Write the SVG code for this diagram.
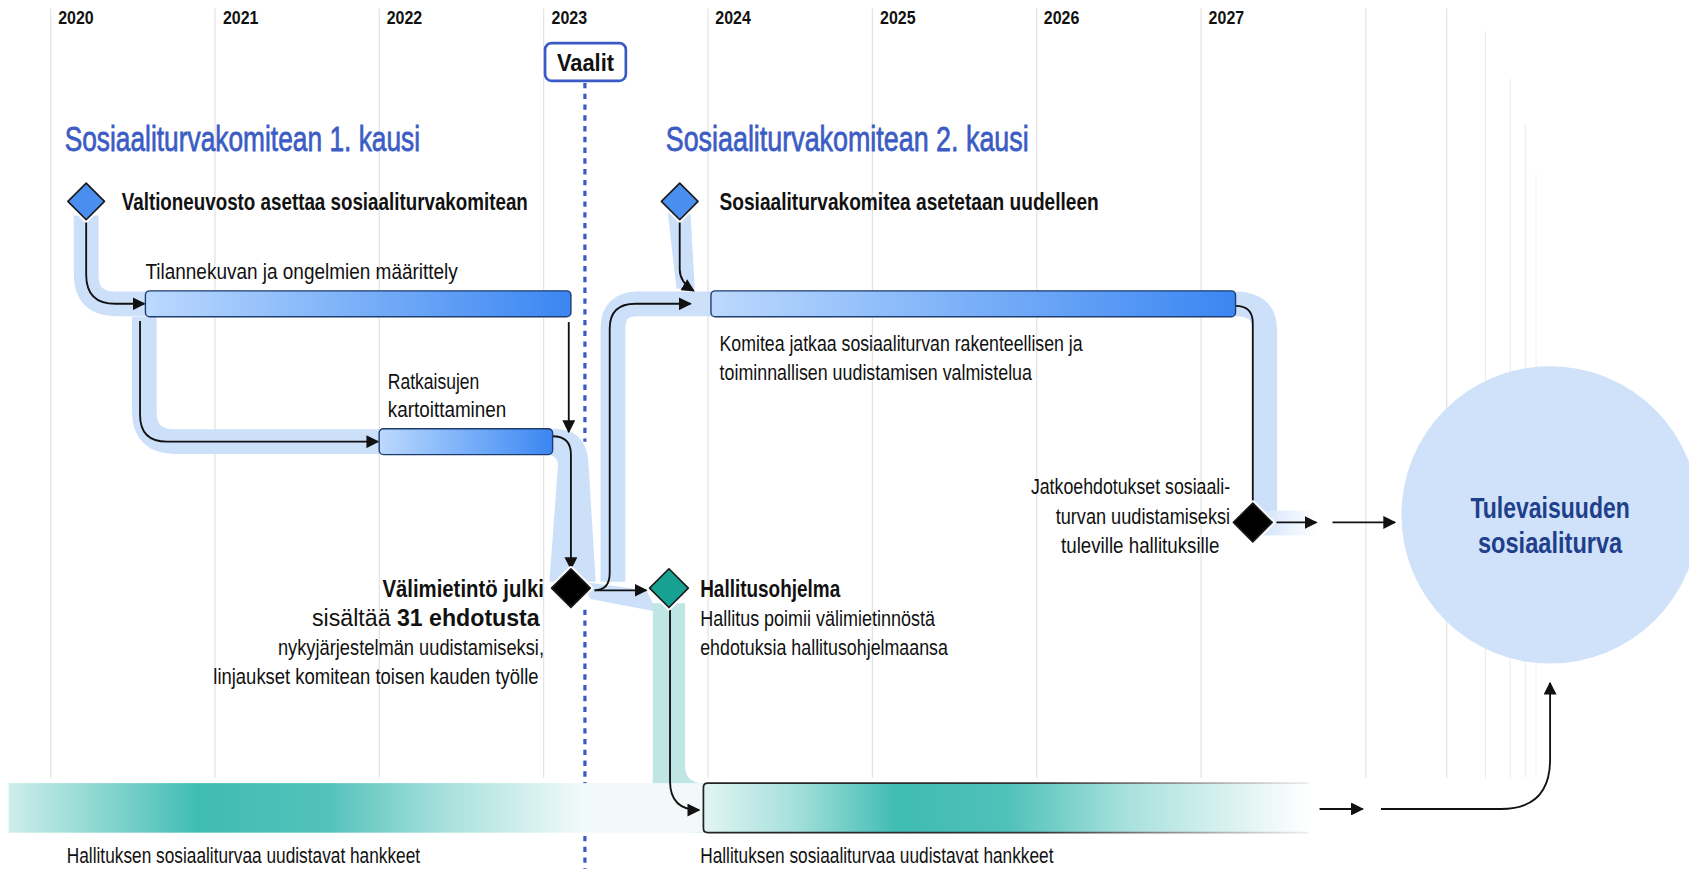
<svg xmlns="http://www.w3.org/2000/svg" width="1689" height="869" viewBox="0 0 1689 869">
<style>
text{font-family:"Liberation Sans Narrow","Liberation Sans",Arial,sans-serif;fill:#111}
.yr{font-size:17px;font-weight:bold}
.ttl{font-size:33px;fill:#3b5cc4;stroke:#3b5cc4;stroke-width:0.7}
.b{font-size:22px;font-weight:bold}
.t{font-size:21px}
.grid{stroke:#e4e4e4;stroke-width:1.2}
.con{fill:none;stroke:#111;stroke-width:1.7;marker-end:url(#ah)}
.con0{fill:none;stroke:#111;stroke-width:1.7}
.band{fill:none;stroke:#cde0fa;stroke-width:23}
.bar{stroke:#1f3c6e;stroke-width:1.3}
.halo{fill:none;stroke:#fff;stroke-width:5;stroke-linejoin:round}
.dm{stroke:#1a1a1a;stroke-width:1.5;stroke-linejoin:round}
</style>
<defs>
<marker id="ah" viewBox="0 0 10 10" refX="9" refY="5" markerWidth="12" markerHeight="12" markerUnits="userSpaceOnUse" orient="auto"><path d="M0,0 L10,5 L0,10 z" fill="#111"/></marker>
<linearGradient id="gBlue" x1="0" x2="1" y1="0" y2="0"><stop offset="0" stop-color="#bdd9fd"/><stop offset="0.35" stop-color="#8dbcfa"/><stop offset="1" stop-color="#3b86f2"/></linearGradient>
<linearGradient id="gTealL" x1="0" x2="1" y1="0" y2="0"><stop offset="0" stop-color="#cdeeeb"/><stop offset="0.15" stop-color="#8fd8d2"/><stop offset="0.33" stop-color="#3fbcb3"/><stop offset="0.55" stop-color="#52c2ba"/><stop offset="0.75" stop-color="#a6e0dc"/><stop offset="1" stop-color="#f3fbfa"/></linearGradient>
<linearGradient id="gTealR" x1="0" x2="1" y1="0" y2="0"><stop offset="0" stop-color="#e2f5f3"/><stop offset="0.15" stop-color="#a6e0dc"/><stop offset="0.32" stop-color="#3fbcb3"/><stop offset="0.5" stop-color="#4fc1b9"/><stop offset="0.7" stop-color="#a8e1dd"/><stop offset="1" stop-color="#ffffff"/></linearGradient>
<linearGradient id="gLineL" x1="0" x2="1" y1="0" y2="0"><stop offset="0" stop-color="#222"/><stop offset="0.7" stop-color="#333"/><stop offset="1" stop-color="#ddd"/></linearGradient>
<linearGradient id="gLineR" x1="0" x2="1" y1="0" y2="0"><stop offset="0" stop-color="#222"/><stop offset="0.55" stop-color="#333"/><stop offset="1" stop-color="#eee"/></linearGradient>
<linearGradient id="gBandFade" x1="0" x2="1" y1="0" y2="0"><stop offset="0" stop-color="#cde0fa"/><stop offset="1" stop-color="#ffffff"/></linearGradient>
</defs>
<rect width="1689" height="869" fill="#fff"/>
<g transform="scale(1.0772)">

<g id="grid">
<line class="grid" x1="47" y1="8" x2="47" y2="722"/>
<line class="grid" x1="199.6" y1="8" x2="199.6" y2="722"/>
<line class="grid" x1="352.1" y1="8" x2="352.1" y2="722"/>
<line class="grid" x1="504.7" y1="8" x2="504.7" y2="722"/>
<line class="grid" x1="657.3" y1="8" x2="657.3" y2="722"/>
<line class="grid" x1="809.9" y1="8" x2="809.9" y2="722"/>
<line class="grid" x1="962.4" y1="8" x2="962.4" y2="722"/>
<line class="grid" x1="1115" y1="8" x2="1115" y2="722"/>
<line class="grid" x1="1268" y1="8" x2="1268" y2="722"/>
<line class="grid" x1="1343" y1="8" x2="1343" y2="722"/>
<line class="grid" x1="1379" y1="29" x2="1379" y2="722" stroke-opacity="0.7"/>
<line class="grid" x1="1402" y1="73" x2="1402" y2="722" stroke-opacity="0.6"/>
<line class="grid" x1="1416" y1="116" x2="1416" y2="722" stroke-opacity="0.5"/>
<line class="grid" x1="1426" y1="161" x2="1426" y2="722" stroke-opacity="0.4"/>
<text class="yr" x="54" y="22" textLength="33" lengthAdjust="spacingAndGlyphs">2020</text>
<text class="yr" x="207" y="22" textLength="33" lengthAdjust="spacingAndGlyphs">2021</text>
<text class="yr" x="359" y="22" textLength="33" lengthAdjust="spacingAndGlyphs">2022</text>
<text class="yr" x="512" y="22" textLength="33" lengthAdjust="spacingAndGlyphs">2023</text>
<text class="yr" x="664" y="22" textLength="33" lengthAdjust="spacingAndGlyphs">2024</text>
<text class="yr" x="817" y="22" textLength="33" lengthAdjust="spacingAndGlyphs">2025</text>
<text class="yr" x="969" y="22" textLength="33" lengthAdjust="spacingAndGlyphs">2026</text>
<text class="yr" x="1122" y="22" textLength="33" lengthAdjust="spacingAndGlyphs">2027</text>
</g>

<g id="vaalit-line">
<line x1="543" y1="77" x2="543" y2="410" stroke="#3a5bc7" stroke-width="3" stroke-dasharray="5 5"/>
<line x1="543" y1="566" x2="543" y2="810" stroke="#3a5bc7" stroke-width="3" stroke-dasharray="5 5"/>
</g>

<g id="titles">
<text class="ttl" x="60" y="140" textLength="330" lengthAdjust="spacingAndGlyphs">Sosiaaliturvakomitean 1. kausi</text>
<text class="ttl" x="618" y="140" textLength="337" lengthAdjust="spacingAndGlyphs">Sosiaaliturvakomitean 2. kausi</text>
</g>

<g id="bands">
<path class="band" d="M80,200 V255 Q80,282 107,282 H140"/>
<path class="band" d="M134,294 V382 Q134,410 162,410 H358"/>
<path d="M505,398 H514 Q542,398 546,425 L553,540 L510,540 L518,432 Q518,422 505,422 Z" fill="#cde0fa"/>
<path class="band" d="M569,540 V305 Q569,282 592,282 H662"/>
<path d="M620,198 L641,198 L645,268 L628,268 Z" fill="#cde0fa"/>
<path d="M540,540 L600,548 L610,568 L548,556 Z" fill="#cde0fa"/>
<path class="band" d="M1147,282 Q1174,282 1174,306 V485"/>
<rect x="1163" y="474" width="60" height="23" fill="url(#gBandFade)"/>
<path d="M606,560 V733 Q606,773 646,773 H660 V727 H652 Q636,727 636,710 V560 Z" fill="#bfe6e3"/>
</g>

<g id="bottom-bars">
<rect id="bar-left" x="8" y="727" width="537" height="46" fill="url(#gTealL)"/>
<rect x="545" y="727" width="110" height="46" fill="#f2f9f9"/>
<line x1="8" y1="727" x2="545" y2="727" stroke="url(#gLineL)" stroke-width="1.6"/>
<line x1="8" y1="773" x2="545" y2="773" stroke="url(#gLineL)" stroke-width="1.6"/>
<path id="bar-right" d="M653,731 Q653,727 657,727 H1215 V773 H657 Q653,773 653,769 Z" fill="url(#gTealR)"/>
<path d="M1215,727 H657 Q653,727 653,731 V769 Q653,773 657,773 H1215" fill="none" stroke="url(#gLineR)" stroke-width="1.6"/>
<text class="t" x="62" y="801" textLength="328" lengthAdjust="spacingAndGlyphs">Hallituksen sosiaaliturvaa uudistavat hankkeet</text>
<text class="t" x="650" y="801" textLength="328" lengthAdjust="spacingAndGlyphs">Hallituksen sosiaaliturvaa uudistavat hankkeet</text>
</g>

<g id="connectors">
<path class="con" d="M80,206 V255 Q80,282 107,282 H134"/>
<path class="con" d="M130,298 V385 Q130,410 155,410 H351"/>
<path class="con" d="M528,299 V401"/>
<path class="con" d="M513,405 Q530,405 530,422 V528"/>
<path class="con" d="M552,548 Q566,548 566,532 V305 Q566,282 590,282 H641"/>
<path class="con" d="M631,205 V250 Q631,262 644,270"/>
<path class="con" d="M552,548 H600"/>
<path class="con" d="M622,566 V725 Q622,752 649,752"/>
<path class="con0" d="M1147,284 Q1163,284 1163,300 V468"/>
<path class="con" d="M1185,485 H1222"/>
<path class="con" d="M1237,485 H1295"/>
<path class="con" d="M1225,751 H1265"/>
<path class="con" d="M1282,751 H1393 Q1439,751 1439,705 V634"/>
</g>

<g id="vaalit">
<rect x="506" y="40" width="75" height="35" rx="6" fill="#fff" stroke="#3a5bc7" stroke-width="2.5"/>
<text x="543.5" y="66" text-anchor="middle" style="font-size:23px;font-weight:bold" textLength="53" lengthAdjust="spacingAndGlyphs">Vaalit</text>
</g>

<g id="node-valtioneuvosto">
<path class="halo" d="M80,170 L97,187 L80,204 L63,187 Z"/>
<path class="dm" d="M80,170 L97,187 L80,204 L63,187 Z" fill="#4a8ff0"/>
<text class="b" x="113" y="195" textLength="377" lengthAdjust="spacingAndGlyphs">Valtioneuvosto asettaa sosiaaliturvakomitean</text>
</g>

<g id="node-tilannekuva">
<rect class="bar" x="135" y="270" width="395" height="24" rx="4" fill="url(#gBlue)"/>
<text class="t" x="135" y="259" textLength="290" lengthAdjust="spacingAndGlyphs">Tilannekuvan ja ongelmien määrittely</text>
</g>

<g id="node-ratkaisut">
<rect class="bar" x="352" y="398" width="161" height="24" rx="4" fill="url(#gBlue)"/>
<text class="t" x="360" y="361" textLength="85" lengthAdjust="spacingAndGlyphs">Ratkaisujen</text>
<text class="t" x="360" y="387" textLength="110" lengthAdjust="spacingAndGlyphs">kartoittaminen</text>
</g>

<g id="node-valimietinto">
<path class="halo" d="M530,528 L548,546 L530,564 L512,546 Z"/>
<path class="dm" d="M530,528 L548,546 L530,564 L512,546 Z" fill="#000"/>
<text class="b" x="505" y="554" text-anchor="end" textLength="150" lengthAdjust="spacingAndGlyphs">Välimietintö julki</text>
<text class="t" x="501" y="581" text-anchor="end" style="font-size:21.5px">sisältää <tspan font-weight="bold">31 ehdotusta</tspan></text>
<text class="t" x="505" y="608" text-anchor="end" textLength="247" lengthAdjust="spacingAndGlyphs">nykyjärjestelmän uudistamiseksi,</text>
<text class="t" x="500" y="635" text-anchor="end" textLength="302" lengthAdjust="spacingAndGlyphs">linjaukset komitean toisen kauden työlle</text>
</g>

<g id="node-hallitusohjelma">
<path class="halo" d="M621,528 L639,546 L621,564 L603,546 Z"/>
<path class="dm" d="M621,528 L639,546 L621,564 L603,546 Z" fill="#17a192"/>
<text class="b" x="650" y="554" textLength="130" lengthAdjust="spacingAndGlyphs">Hallitusohjelma</text>
<text class="t" x="650" y="581" textLength="218" lengthAdjust="spacingAndGlyphs">Hallitus poimii välimietinnöstä</text>
<text class="t" x="650" y="608" textLength="230" lengthAdjust="spacingAndGlyphs">ehdotuksia hallitusohjelmaansa</text>
</g>

<g id="node-uudelleen">
<path class="halo" d="M631,170 L648,187 L631,204 L614,187 Z"/>
<path class="dm" d="M631,170 L648,187 L631,204 L614,187 Z" fill="#4a8ff0"/>
<text class="b" x="668" y="195" textLength="352" lengthAdjust="spacingAndGlyphs">Sosiaaliturvakomitea asetetaan uudelleen</text>
</g>

<g id="node-komitea-jatkaa">
<rect class="bar" x="660" y="270" width="487" height="24" rx="4" fill="url(#gBlue)"/>
<text class="t" x="668" y="326" textLength="337" lengthAdjust="spacingAndGlyphs">Komitea jatkaa sosiaaliturvan rakenteellisen ja</text>
<text class="t" x="668" y="353" textLength="290" lengthAdjust="spacingAndGlyphs">toiminnallisen uudistamisen valmistelua</text>
</g>

<g id="node-jatkoehdotukset">
<path class="halo" d="M1163,467 L1181,485 L1163,503 L1145,485 Z"/>
<path class="dm" d="M1163,467 L1181,485 L1163,503 L1145,485 Z" fill="#000"/>
<text class="t" x="1142" y="459" text-anchor="end" textLength="185" lengthAdjust="spacingAndGlyphs">Jatkoehdotukset sosiaali-</text>
<text class="t" x="1142" y="486" text-anchor="end" textLength="162" lengthAdjust="spacingAndGlyphs">turvan uudistamiseksi</text>
<text class="t" x="1132" y="513" text-anchor="end" textLength="147" lengthAdjust="spacingAndGlyphs">tuleville hallituksille</text>
</g>

<g id="node-tulevaisuus">
<circle cx="1439" cy="478" r="138" fill="#cfe2fa"/>
<text x="1439" y="481" text-anchor="middle" style="font-size:27px;font-weight:bold;fill:#1f3f8a" textLength="148" lengthAdjust="spacingAndGlyphs">Tulevaisuuden</text>
<text x="1439" y="513" text-anchor="middle" style="font-size:27px;font-weight:bold;fill:#1f3f8a" textLength="134" lengthAdjust="spacingAndGlyphs">sosiaaliturva</text>
</g>
</g>
</svg>
